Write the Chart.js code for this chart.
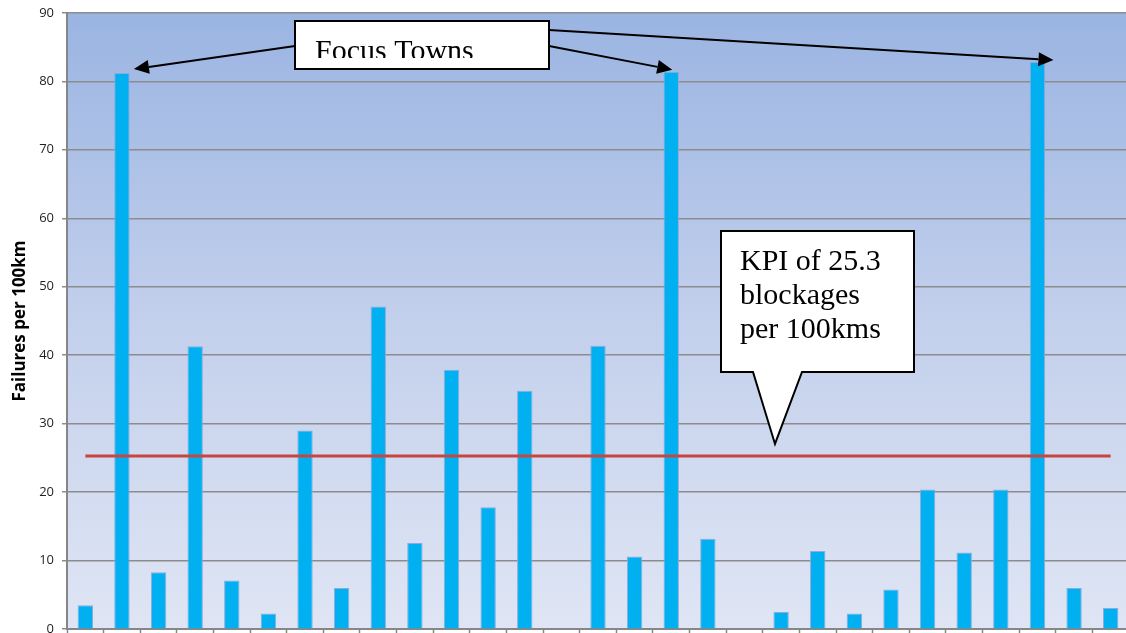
<!DOCTYPE html>
<html>
<head>
<meta charset="utf-8">
<script src="https://cdn.jsdelivr.net/npm/chart.js@4.4.0/dist/chart.umd.min.js"></script>
<style>
    html, body { margin: 0; padding: 0; background: #ffffff; overflow: hidden; }
    #wrap { position: absolute; left: 0; top: -3px; width: 1129px; height: 648px; }
</style>
</head>
<body>
<div id="wrap"><canvas id="failuresChart" width="1129" height="648"></canvas></div>
<script>
// Towns along the x axis (labels are below the visible crop)
const towns = ['1', '2', '3', '4', '5', '6', '7', '8', '9', '10', '11', '12', '13', '14', '15',
    '16', '17', '18', '19', '20', '21', '22', '23', '24', '25', '26', '27', '28', '29'];

// Failures per 100km for each town (null = no bar)
const failures = [3.5, 81.2, 8.3, 41.3, 7.1, 2.3, 29.0, 6.0, 47.1, 12.6, 37.9, 17.8, 34.8, null, 41.4,
    10.6, 81.4, 13.2, null, 2.5, 11.4, 2.3, 5.8, 20.4, 11.2, 20.4, 82.8, 6.0, 3.1];

// KPI target
const kpiValue = 25.3;

// Y axis ticks
const yMin = 0;
const yMax = 90;
const yStep = 10;

// Callout texts
const focusLabel = 'Focus Towns';
const focusTownIndexes = [1, 16, 26];
const kpiLines = ['KPI of 25.3', 'blockages', 'per 100kms'];

document.addEventListener('DOMContentLoaded', function() {
    initChart();
});

// Plot background gradient
const backgroundPlugin = {
    id: 'plotBackground',
    beforeDraw(chart) {
        const { ctx, chartArea } = chart;
        const grad = ctx.createLinearGradient(0, chartArea.top, 0, chartArea.bottom);
        grad.addColorStop(0, '#9ab4e2');
        grad.addColorStop(0.5, '#c3d0ec');
        grad.addColorStop(1, '#dfe5f4');
        ctx.save();
        ctx.fillStyle = grad;
        ctx.fillRect(chartArea.left, chartArea.top, chartArea.right - chartArea.left, chartArea.bottom - chartArea.top);
        ctx.restore();
    }
};

function drawArrow(ctx, x1, y1, x2, y2) {
    const angle = Math.atan2(y2 - y1, x2 - x1);
    const headLen = 15;
    const headHalf = 7;
    const bx = x2 - headLen * Math.cos(angle);
    const by = y2 - headLen * Math.sin(angle);
    ctx.beginPath();
    ctx.moveTo(x1, y1);
    ctx.lineTo(bx, by);
    ctx.stroke();
    ctx.beginPath();
    ctx.moveTo(x2, y2);
    ctx.lineTo(bx + headHalf * Math.sin(angle), by - headHalf * Math.cos(angle));
    ctx.lineTo(bx - headHalf * Math.sin(angle), by + headHalf * Math.cos(angle));
    ctx.closePath();
    ctx.fill();
}

// Focus Towns box with arrows, and the KPI callout (page offset of 3px is added back)
const calloutPlugin = {
    id: 'callouts',
    afterDraw(chart) {
        const { ctx } = chart;
        const xs = chart.scales.x;
        const ys = chart.scales.y;

        ctx.save();
        ctx.translate(0, 3);
        ctx.strokeStyle = '#000000';
        ctx.fillStyle = '#000000';
        ctx.lineWidth = 2;

        // arrows from the box to the tops of the focus towns
        const starts = [[295, 46], [549, 46], [549, 30]];
        const tipOffsets = [[12, -4], [1, -2], [16, -2]];
        focusTownIndexes.forEach((idx, i) => {
            const tx = xs.getPixelForValue(idx) + tipOffsets[i][0];
            const ty = ys.getPixelForValue(failures[idx]) - 3 + tipOffsets[i][1];
            drawArrow(ctx, starts[i][0], starts[i][1], tx, ty);
        });

        // Focus Towns box
        ctx.fillStyle = '#ffffff';
        ctx.fillRect(295, 21, 254, 48);
        ctx.strokeRect(295, 21, 254, 48);
        ctx.save();
        ctx.beginPath();
        ctx.rect(296, 22, 252, 36);
        ctx.clip();
        ctx.fillStyle = '#000000';
        ctx.font = '30px "Liberation Serif", "Times New Roman", serif';
        ctx.textBaseline = 'alphabetic';
        ctx.fillText(focusLabel, 315, 60);
        ctx.restore();

        // KPI callout with pointer
        const tipX = 775;
        const tipY = ys.getPixelForValue(kpiValue) - 3 - 12;
        ctx.beginPath();
        ctx.moveTo(721, 231);
        ctx.lineTo(914, 231);
        ctx.lineTo(914, 372);
        ctx.lineTo(802, 372);
        ctx.lineTo(tipX, tipY);
        ctx.lineTo(753, 372);
        ctx.lineTo(721, 372);
        ctx.closePath();
        ctx.fillStyle = '#ffffff';
        ctx.fill();
        ctx.stroke();

        ctx.fillStyle = '#000000';
        ctx.font = '30px "Liberation Serif", "Times New Roman", serif';
        kpiLines.forEach((line, i) => {
            ctx.fillText(line, 740, 270 + i * 34);
        });
        ctx.restore();
    }
};

function initChart() {
    const ctx = document.getElementById('failuresChart').getContext('2d');
    new Chart(ctx, {
        data: {
            labels: towns,
            datasets: [
                {
                    type: 'line',
                    label: 'KPI',
                    data: [{ x: towns[0], y: kpiValue }, { x: towns[towns.length - 1], y: kpiValue }],
                    borderColor: '#c9453f',
                    borderWidth: 3,
                    pointRadius: 0,
                    fill: false,
                    order: 0
                },
                {
                    type: 'bar',
                    label: 'Failures per 100km',
                    data: failures,
                    backgroundColor: '#00b0f0',
                    borderColor: '#8eaadc',
                    borderWidth: 1,
                    barPercentage: 1,
                    categoryPercentage: 0.42,
                    order: 1
                }
            ]
        },
        options: {
            responsive: false,
            animation: false,
            devicePixelRatio: 1,
            layout: {
                padding: { top: 12, right: 0, bottom: 0, left: 0 }
            },
            scales: {
                x: {
                    offset: true,
                    grid: {
                        offset: true,
                        drawOnChartArea: false,
                        drawTicks: true,
                        tickLength: 4,
                        tickColor: '#868686',
                        tickWidth: 1.5
                    },
                    border: { display: true, color: '#868686', width: 2 },
                    ticks: { display: false }
                },
                y: {
                    min: yMin,
                    max: yMax,
                    afterFit: function(scale) {
                        scale.width = 67;
                    },
                    ticks: {
                        stepSize: yStep,
                        padding: 8,
                        color: '#1f1f1f',
                        font: { family: '"Open Sans", "Liberation Sans", sans-serif', size: 13 }
                    },
                    grid: {
                        color: '#8c8c8c',
                        lineWidth: 1.5,
                        tickLength: 5,
                        tickColor: '#8c8c8c'
                    },
                    border: { display: true, color: '#868686', width: 2 },
                    title: {
                        display: true,
                        text: 'Failures per 100km',
                        color: '#000000',
                        padding: { top: 10, bottom: 4 },
                        font: { family: '"Open Sans", "Liberation Sans", sans-serif', size: 17, weight: 'bold' }
                    }
                }
            },
            plugins: {
                legend: { display: false },
                tooltip: { enabled: false }
            }
        },
        plugins: [backgroundPlugin, calloutPlugin]
    });
}
</script>
</body>
</html>
